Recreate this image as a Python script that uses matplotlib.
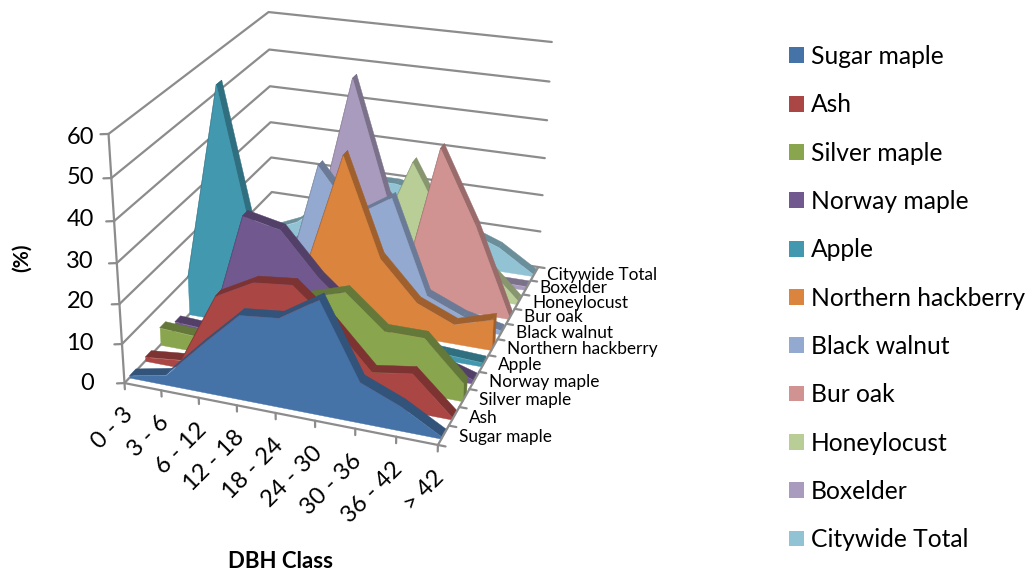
import numpy as np
import matplotlib
matplotlib.use('Agg')
import matplotlib.pyplot as plt
from matplotlib.patches import Patch
from mpl_toolkits.mplot3d.art3d import Poly3DCollection

plt.rcParams['font.family'] = ['Lato', 'DejaVu Sans']

dbh_classes = ['0 - 3', '3 - 6', '6 - 12', '12 - 18', '18 - 24', '24 - 30', '30 - 36', '36 - 42', '> 42']
species = ['Sugar maple', 'Ash', 'Silver maple', 'Norway maple', 'Apple', 'Northern hackberry',
           'Black walnut', 'Bur oak', 'Honeylocust', 'Boxelder', 'Citywide Total']

sugar_maple = [0.5, 2.5, 12, 21, 22, 28, 10, 6, 0.5]
ash = [1, 2, 20, 25, 26, 18, 8, 9.5, 0.5]
silver_maple = [4.5, 4, 8, 14, 19, 22, 14, 14, 4.5]
norway_maple = [2, 1.5, 32.5, 30.5, 20, 12, 6, 4, 1]
apple = [10, 60, 17, 10, 5, 3, 2, 1.5, 1]
northern_hackberry = [1, 2, 5, 14, 43.5, 19, 9, 5, 8]
black_walnut = [1, 1, 3, 36.5, 25, 31, 7, 3, 1]
bur_oak = [0.5, 0.5, 0.5, 1, 1, 2, 41.5, 23, 0.5]
honeylocust = [0.5, 0.5, 1, 2, 11, 33.5, 17, 10, 1]
boxelder = [1, 1, 11, 50, 20, 8, 3, 1, 1]
citywide_total = [1, 5, 12, 20, 20, 18, 10, 6.5, 0.5]
series = [sugar_maple, ash, silver_maple, norway_maple, apple, northern_hackberry,
          black_walnut, bur_oak, honeylocust, boxelder, citywide_total]

colors = ['#4572A7', '#AA4643', '#89A54E', '#71588F', '#4198AF', '#DB843D',
          '#93A9CF', '#D19392', '#B9CD96', '#A99BBD', '#92C3D4']
z_ticks = [0, 10, 20, 30, 40, 50, 60]
grid_color = '#8c8c8c'

W, H = 1028, 576
n_x = len(dbh_classes) - 1
n_y = len(species)

# where the corners of the plot box sit in the picture, used to solve the camera
box_corners = [(0, 0, 0), (n_x, 0, 0), (n_x, n_y, 0), (0, n_y, 0), (0, 0, 60), (0, n_y, 60), (n_x, n_y, 60)]
box_pixels = [(124, 383), (438, 445), (538, 267), (273, 226), (109, 134), (268, 12), (552, 42)]


def solve_camera():
    rows = []
    rhs = []
    for (x, y, z), (u, v) in zip(box_corners, box_pixels):
        v = H - v
        rows.append([x, y, z, 1, 0, 0, 0, 0, -u * x, -u * y, -u * z])
        rhs.append(u)
        rows.append([0, 0, 0, 0, x, y, z, 1, -v * x, -v * y, -v * z])
        rhs.append(v)
    p = np.linalg.lstsq(np.array(rows, float), np.array(rhs, float), rcond=None)[0]
    return np.append(p, 1).reshape(3, 4)


camera = solve_camera()

fig = plt.figure(figsize=(W / 100, H / 100), dpi=100)
ax = fig.add_axes([0, 0, 1, 1], projection='3d')
ax.computed_zorder = False
ax.patch.set_visible(False)
# ortho only switches off the line clipping, the matrix below does the projecting
ax.set_proj_type('ortho')


def camera_proj():
    to_data = np.linalg.inv(ax.transData.get_affine().get_matrix())
    p = to_data @ camera
    return np.array([p[0], p[1], [0, 1, 0, 0], p[2]])


ax.get_proj = camera_proj


def fig_pos(x, y, z):
    u, v, w = camera @ np.array([x, y, z, 1.0])
    return u / w / W, v / w / H


def line3d(xs, ys, zs, lw=1.6, zorder=1):
    ax.plot(xs, ys, zs, color=grid_color, lw=lw, zorder=zorder, solid_capstyle='round', clip_on=False)


# walls and floor
for z in z_ticks:
    line3d([0, 0, n_x], [0, n_y, n_y], [z, z, z])
    line3d([-0.167, 0], [-0.088, 0], [z, z])
line3d([0, 0], [0, 0], [0, 60])
line3d([0, n_x, n_x], [0, 0, n_y], [0, 0, 0], zorder=60)
for i in range(n_x + 1):
    line3d([i, i], [0, 0], [0, -1.6], zorder=60)
for i in range(n_y + 1):
    line3d([n_x, n_x + 0.18], [i, i], [0, 0], zorder=60)


def darker(color, f=0.73):
    return tuple(c * f for c in matplotlib.colors.to_rgb(color))


# one ribbon per species, drawn from the back to the front
for i in range(n_y - 1, -1, -1):
    vals = series[i]
    y0 = i + 0.32
    y1 = i + 0.72
    order = 2 + (n_y - 1 - i) * 2
    tops = []
    for k in range(n_x):
        tops.append([(k, y0, vals[k]), (k + 1, y0, vals[k + 1]), (k + 1, y1, vals[k + 1]), (k, y1, vals[k])])
    tops.append([(n_x, y0, 0), (n_x, y0, vals[-1]), (n_x, y1, vals[-1]), (n_x, y1, 0)])
    dark = darker(colors[i])
    coll = Poly3DCollection(tops, facecolors=dark, edgecolors=dark, linewidths=0.3, zorder=order)
    coll.set_clip_on(False)
    ax.add_collection3d(coll)
    front = [(k, y0, vals[k]) for k in range(n_x + 1)] + [(n_x, y0, 0), (0, y0, 0)]
    coll = Poly3DCollection([front], facecolors=colors[i], edgecolors=colors[i], linewidths=0.3, zorder=order + 1)
    coll.set_clip_on(False)
    ax.add_collection3d(coll)

ax.set_xlim(0, n_x)
ax.set_ylim(0, n_y)
ax.set_zlim(0, 60)
ax.set_axis_off()

for i, label in enumerate(dbh_classes):
    fx, fy = fig_pos(i, 0, -5.5)
    fig.text(fx - 4 / W, fy, label, ha='right', va='top', rotation=45, rotation_mode='anchor', fontsize=17)
for i, label in enumerate(species):
    fx, fy = fig_pos(n_x + 0.36, i + 0.5, 0)
    fig.text(fx, fy + 1 / H, label, ha='left', va='center', fontsize=12.4)

z_label_px = [383, 343, 302, 262, 220, 178, 137]
for z, py in zip(z_ticks, z_label_px):
    fig.text(94 / W, 1 - py / H, str(z), ha='right', va='center', fontsize=17)

fig.text(22 / W, 1 - 258 / H, '(%)', rotation=90, ha='center', va='center', fontsize=15, fontweight='bold')
fig.text(280 / W, 1 - 561 / H, 'DBH Class', ha='center', va='center', fontsize=16, fontweight='bold')

handles = [Patch(facecolor=c, edgecolor='none') for c in colors]
fig.legend(handles, species, loc='upper left', bbox_to_anchor=(789 / W, 1 - 45 / H), frameon=False, fontsize=17.7,
           handlelength=0.61, handleheight=0.61, handletextpad=0.27, labelspacing=1.03, borderpad=0, borderaxespad=0)

fig.savefig('out.png', dpi=100)
